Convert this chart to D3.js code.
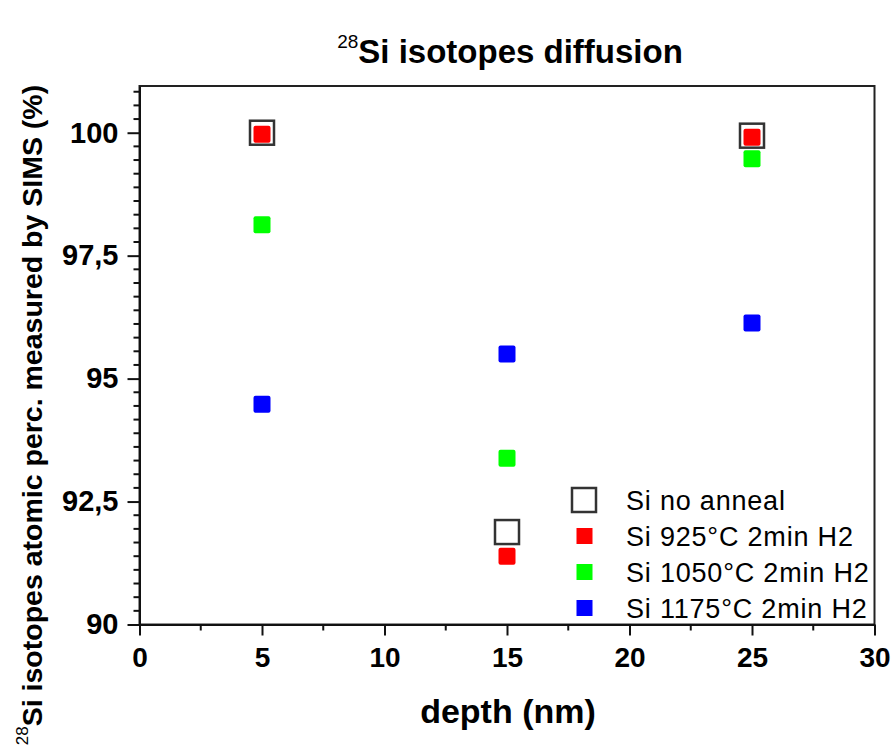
<!DOCTYPE html>
<html><head><meta charset="utf-8">
<script src="https://cdn.jsdelivr.net/npm/d3@7"></script>
<style>body{margin:0;background:#fff}svg{display:block}text{font-family:"Liberation Sans",Arial,sans-serif}</style>
</head><body><svg id="c" width="896" height="755"></svg>
<script>
const depths = [5, 15, 25];
const noAnneal = [100.0, 91.88, 99.94];
const si925 = [99.97, 91.39, 99.91];
const si1050 = [98.13, 93.38, 99.47];
const si1175 = [94.48, 95.50, 96.13];
const seriesNames = ["Si no anneal", "Si 925°C 2min H2", "Si 1050°C 2min H2", "Si 1175°C 2min H2"];
const seriesColors = ["none", "#ff0000", "#00ff00", "#0000ff"];
const xTicks = [0, 5, 10, 15, 20, 25, 30];
const yTicks = [90, 92.5, 95, 97.5, 100];
const yTickLabels = ["90", "92,5", "95", "97,5", "100"];

const svg = d3.select("#c");
const L = 139.5, R = 874.5, T = 86, B = 624.5;
const x = d3.scaleLinear().domain([0, 30]).range([L, R]);
const y = d3.scaleLinear().domain([90, 100.95]).range([B, T]);

// frame
svg.append("rect").attr("x", L).attr("y", T).attr("width", R - L).attr("height", B - T)
  .attr("fill", "none").attr("stroke", "#222").attr("stroke-width", 2);

// x axis
const xMinor = d3.range(0, 30.01, 2.5).filter(v => v % 5 !== 0);
const gx = svg.append("g").attr("transform", `translate(0,${B})`);
gx.call(d3.axisBottom(x).tickValues(xTicks).tickSize(11).tickSizeOuter(0).tickPadding(6).tickFormat(d3.format("d")));
gx.select(".domain").attr("stroke", "#111").attr("stroke-width", 2);
gx.selectAll(".tick line").attr("stroke", "#111").attr("stroke-width", 2);
gx.selectAll(".tick text").attr("font-size", 28).attr("font-weight", "bold").attr("fill", "#000")
  .attr("dy", "0.9em");
gx.selectAll(".minor").data(xMinor).enter().append("line").attr("class", "minor")
  .attr("x1", d => x(d)).attr("x2", d => x(d)).attr("y1", 0).attr("y2", 6)
  .attr("stroke", "#111").attr("stroke-width", 2);

// y axis
const yMinor = d3.range(0, 40).map(i => 90 + i * 2.5 / 9).filter(v => v <= 100.95 && Math.abs((v - 90) / 2.5 - Math.round((v - 90) / 2.5)) > 1e-6);
const gy = svg.append("g").attr("transform", `translate(${L},0)`);
gy.call(d3.axisLeft(y).tickValues(yTicks).tickSize(12).tickSizeOuter(0).tickPadding(9)
  .tickFormat((d, i) => yTickLabels[i]));
gy.select(".domain").attr("stroke", "#111").attr("stroke-width", 2);
gy.selectAll(".tick line").attr("stroke", "#111").attr("stroke-width", 2);
gy.selectAll(".tick text").attr("font-size", 29).attr("font-weight", "bold").attr("fill", "#000");
gy.selectAll(".minor").data(yMinor).enter().append("line").attr("class", "minor")
  .attr("x1", 0).attr("x2", -6).attr("y1", d => y(d)).attr("y2", d => y(d))
  .attr("stroke", "#111").attr("stroke-width", 2);

// title
const title = svg.append("text").attr("x", 510).attr("y", 63).attr("text-anchor", "middle");
title.append("tspan").attr("font-size", 19).attr("dy", -15).text("28");
title.append("tspan").attr("font-size", 33).attr("font-weight", "bold").attr("dy", 15).text("Si isotopes diffusion");

// x label
svg.append("text").attr("x", 508).attr("y", 723).attr("text-anchor", "middle")
  .attr("font-size", 34).attr("font-weight", "bold").text("depth (nm)");

// y label
const yl = svg.append("text").attr("transform", "translate(42,415) rotate(-90)").attr("text-anchor", "middle");
yl.append("tspan").attr("font-size", 17).attr("dy", -14).text("28");
yl.append("tspan").attr("font-size", 28.5).attr("font-weight", "bold").attr("dy", 14).text("Si isotopes atomic perc. measured by SIMS (%)");

// data
const all = [noAnneal, si925, si1050, si1175];
const open = 24, fill = 17;
svg.append("g").selectAll("rect").data(depths.map((d, i) => [d, noAnneal[i]])).enter().append("rect")
  .attr("x", d => x(d[0]) - open / 2).attr("y", d => y(d[1]) - open / 2)
  .attr("width", open).attr("height", open).attr("fill", "none").attr("stroke", "#333").attr("stroke-width", 2.5);
[1, 2, 3].forEach(k => {
  svg.append("g").selectAll("rect").data(depths.map((d, i) => [d, all[k][i]])).enter().append("rect")
    .attr("x", d => x(d[0]) - fill / 2).attr("y", d => y(d[1]) - fill / 2)
    .attr("width", fill).attr("height", fill).attr("rx", 2).attr("fill", seriesColors[k]);
});

// legend
const lg = svg.append("g");
const rowY = [500, 536, 572, 608];
seriesNames.forEach((n, k) => {
  if (k === 0) {
    lg.append("rect").attr("x", 584 - open / 2).attr("y", rowY[k] - open / 2).attr("width", open).attr("height", open)
      .attr("fill", "none").attr("stroke", "#333").attr("stroke-width", 2.5);
  } else {
    lg.append("rect").attr("x", 584.5 - 8).attr("y", rowY[k] - 8).attr("width", 16).attr("height", 16).attr("fill", seriesColors[k]);
  }
  lg.append("text").attr("x", 626).attr("y", rowY[k] + 10).attr("font-size", 27).attr("letter-spacing", 0.8).text(n);
});
</script></body></html>
